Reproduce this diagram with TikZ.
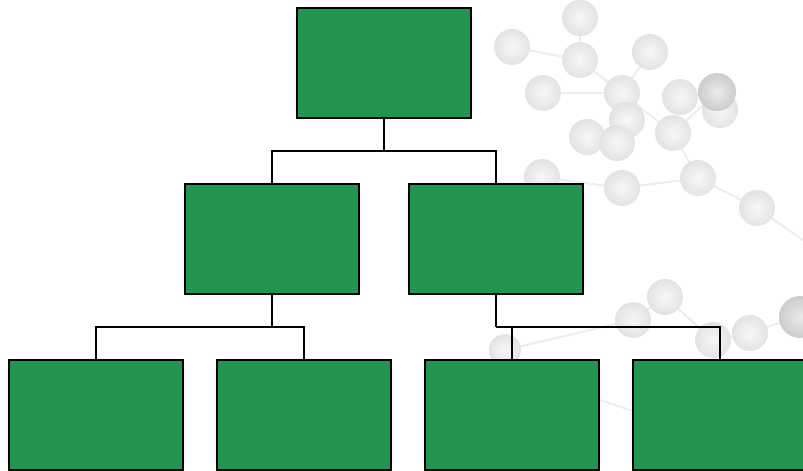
\documentclass[tikz,border=0pt]{standalone}
\usetikzlibrary{calc}
\definecolor{boxgreen}{RGB}{35,148,81}
\begin{document}
\begin{tikzpicture}[x=1pt,y=-1pt,
  orgbox/.style={draw=black,line width=2.2pt,fill=boxgreen,minimum width=174pt,minimum height=110pt,inner sep=0pt,outer sep=0pt},
  conn/.style={draw=black,line width=2pt},
  stick/.style={draw=black!7,line width=2pt},
  atom/.style={inner color=black!3,outer color=black!11},
  darkatom/.style={inner color=black!8,outer color=black!20}]
\clip (0,0) rectangle (803,471);
\useasboundingbox (0,0) rectangle (803,471);
% faint molecule background
\draw[stick] (512,47) -- (580,60) -- (622,93) -- (650,52);
\draw[stick] (543,93) -- (622,93) -- (673,133) -- (717,92);
\draw[stick] (580,18) -- (580,60);
\draw[stick] (622,93) -- (617,143) -- (587,137);
\draw[stick] (542,177) -- (622,188) -- (698,178) -- (757,208) -- (803,240);
\draw[stick] (673,133) -- (698,178);
\draw[stick] (633,320) -- (665,297) -- (713,340) -- (750,333) -- (797,317);
\draw[stick] (505,350) -- (633,320);
\draw[stick] (600,400) -- (660,420);
\foreach \p/\r in {(580,18)/18,(512,47)/18,(580,60)/18,(650,52)/18,(543,93)/18,(622,93)/18,(680,97)/18,(720,110)/18,(627,120)/18,(587,137)/18,(617,143)/18,(673,133)/18,(542,177)/18,(622,188)/18,(698,178)/18,(757,208)/18,(665,297)/18,(633,320)/18,(750,333)/18,(713,340)/18,(505,350)/16}
  \shade[atom] \p circle (\r);
\shade[darkatom] (717,92) circle (19);
\shade[darkatom] (800,317) circle (21);
% boxes
\node[orgbox] (top) at (384,63) {};
\node[orgbox] (ml) at (272,239) {};
\node[orgbox] (mr) at (496,239) {};
\node[orgbox] (b1) at (96,415) {};
\node[orgbox] (b2) at (304,415) {};
\node[orgbox] (b3) at (512,415) {};
\node[orgbox] (b4) at (720,415) {};
% connectors
\coordinate (j0) at (384,151);
\coordinate (j1) at (272,327);
\coordinate (j2) at (496,327);
\draw[conn] (top.south) -- (j0);
\draw[conn] (ml.north) |- (j0) -| (mr.north);
\draw[conn] (ml.south) -- (j1);
\draw[conn] (b1.north) |- (j1) -| (b2.north);
\draw[conn] (mr.south) -- (j2);
\draw[conn] (b3.north) |- (j2) -| (b4.north);
\end{tikzpicture}
\end{document}
